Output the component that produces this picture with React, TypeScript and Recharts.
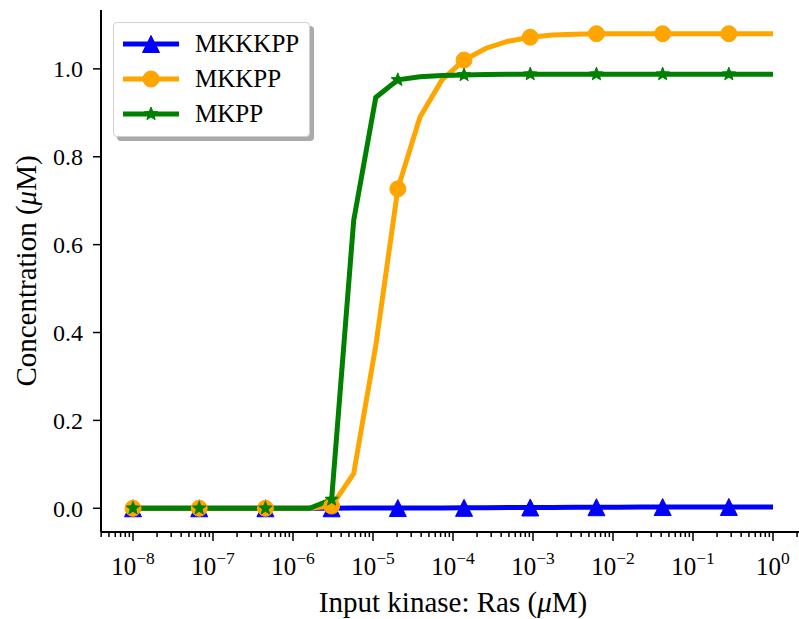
import { LineChart, Line, XAxis, YAxis, Legend, Label } from "recharts";

const FONT = '"Liberation Serif", "Times New Roman", serif';

// input kinase concentration (uM), 30 log-spaced samples from 1e-8 to 1
const RAS = [
  1.0e-8, 1.887e-8, 3.562e-8, 6.723e-8, 1.269e-7, 2.395e-7, 4.52e-7, 8.532e-7,
  1.61e-6, 3.039e-6, 5.736e-6, 1.083e-5, 2.043e-5, 3.857e-5, 7.279e-5, 1.374e-4,
  2.593e-4, 4.894e-4, 9.237e-4, 1.743e-3, 3.29e-3, 6.21e-3, 1.172e-2, 2.212e-2,
  4.175e-2, 7.88e-2, 1.487e-1, 2.807e-1, 5.298e-1, 1.0,
];

const MKKKPP = [
  0, 0, 0, 0, 0, 0, 0, 0, 0, 0, 0.0005, 0.0005, 0.0005, 0.0006, 0.0008, 0.001,
  0.0012, 0.0015, 0.0018, 0.002, 0.0022, 0.0024, 0.0026, 0.0027, 0.0028, 0.0029,
  0.003, 0.003, 0.003, 0.003,
];

const MKKPP = [
  0, 0, 0, 0, 0, 0, 0, 0, 0, 0.005, 0.079, 0.37, 0.727, 0.89, 0.975, 1.02, 1.047,
  1.063, 1.072, 1.077, 1.079, 1.08, 1.08, 1.08, 1.08, 1.08, 1.08, 1.08, 1.08, 1.08,
];

const MKPP = [
  0, 0, 0, 0, 0, 0, 0, 0, 0, 0.02, 0.655, 0.935, 0.975, 0.982, 0.985, 0.986, 0.987,
  0.988, 0.988, 0.988, 0.988, 0.988, 0.988, 0.988, 0.988, 0.988, 0.988, 0.988,
  0.988, 0.988,
];

const MAJOR_TICKS = [1e-8, 1e-7, 1e-6, 1e-5, 1e-4, 1e-3, 1e-2, 1e-1, 1];
const Y_TICKS = [0, 0.2, 0.4, 0.6, 0.8, 1.0];
const X_DOMAIN = [3.981e-9, 2.512];
const Y_DOMAIN = [-0.054, 1.134];

const SERIES = [
  { key: "MKKKPP", name: "MKKKPP", color: "#0000ff", marker: "triangle" },
  { key: "MKKPP", name: "MKKPP", color: "#ffa500", marker: "circle" },
  { key: "MKPP", name: "MKPP", color: "#008000", marker: "star" },
];

const data = RAS.map((x, i) => ({
  x,
  MKKKPP: MKKKPP[i],
  MKKPP: MKKPP[i],
  MKPP: MKPP[i],
}));

// minor ticks: 2..9 x each decade, within the visible range
const allTicks: number[] = [];
[1e-9, ...MAJOR_TICKS].forEach((d) => {
  for (let m = 1; m <= 9; m++) {
    const v = d * m;
    if (v >= X_DOMAIN[0] && v <= X_DOMAIN[1]) allTicks.push(v);
  }
});

function markerShape(kind: string, cx: number, cy: number, color: string) {
  if (kind === "triangle") {
    const h = 8.5;
    return (
      <polygon
        points={`${cx},${cy - h} ${cx - h},${cy + h} ${cx + h},${cy + h}`}
        fill={color}
        stroke={color}
        strokeWidth={1}
      />
    );
  }
  if (kind === "circle") {
    return <circle cx={cx} cy={cy} r={8} fill={color} stroke={color} />;
  }
  const pts: string[] = [];
  for (let k = 0; k < 10; k++) {
    const r = k % 2 === 0 ? 7 : 3;
    const a = -Math.PI / 2 + (k * Math.PI) / 5;
    pts.push(`${cx + r * Math.cos(a)},${cy + r * Math.sin(a)}`);
  }
  return <polygon points={pts.join(" ")} fill={color} stroke={color} strokeWidth={1} />;
}

function makeDot(kind: string, color: string) {
  return (props: any) => {
    const { cx, cy, index } = props;
    if (index % 3 !== 0 || cx == null || cy == null) return <g key={`d-${index}`} />;
    return <g key={`d-${index}`}>{markerShape(kind, cx, cy, color)}</g>;
  };
}

function LogTick(props: any) {
  const { x, y, payload } = props;
  const lg = Math.log10(payload.value);
  const exp = Math.round(lg);
  const major = Math.abs(lg - exp) < 1e-6;
  return (
    <g>
      <line x1={x} x2={x} y1={y} y2={y + (major ? 9 : 5)} stroke="#000" strokeWidth={1.5} />
      {major && (
        <text x={x} y={y + 43} textAnchor="middle" fontFamily={FONT} fontSize={25} fill="#000">
          10
          <tspan dy={-11} fontSize={17.5}>
            {exp === 0 ? "0" : "\u2212" + Math.abs(exp)}
          </tspan>
        </text>
      )}
    </g>
  );
}

function LegendBox() {
  return (
    <div
      style={{
        width: 197,
        height: 115,
        background: "#fff",
        border: "1px solid #d0d0d0",
        borderRadius: 4,
        boxShadow: "4px 4px 0 #aaaaaa",
        fontFamily: FONT,
        fontSize: 25,
        color: "#000",
        boxSizing: "border-box",
        paddingTop: 3,
      }}
    >
      {SERIES.map((s) => (
        <div key={s.key} style={{ height: 35, display: "flex", alignItems: "center" }}>
          <svg width={81} height={30} style={{ flex: "none" }}>
            <line x1={9} x2={65} y1={15} y2={15} stroke={s.color} strokeWidth={5} />
            {markerShape(s.marker, 37, 15, s.color)}
          </svg>
          <span style={{ lineHeight: "30px" }}>{s.name}</span>
        </div>
      ))}
    </div>
  );
}

export default function App() {
  return (
    <div
      style={{
        position: "absolute",
        left: 0,
        top: 0,
        width: 799,
        height: 619,
        overflow: "hidden",
        background: "#fff",
      }}
    >
      <LineChart width={810} height={619} data={data} margin={{ top: 10, right: 5, bottom: 0, left: 0 }}>
        <XAxis
          dataKey="x"
          type="number"
          scale="log"
          domain={X_DOMAIN}
          allowDataOverflow
          ticks={allTicks}
          interval={0}
          tick={<LogTick />}
          tickLine={false}
          tickSize={0}
          tickMargin={0}
          height={87}
          axisLine={{ stroke: "#000", strokeWidth: 2 }}
        >
          <Label
            content={(p: any) => {
              const vb = p.viewBox;
              return (
                <text
                  x={vb.x + vb.width / 2}
                  y={vb.y + 80}
                  textAnchor="middle"
                  fontFamily={FONT}
                  fontSize={29}
                  fill="#000"
                >
                  Input kinase: Ras (<tspan fontStyle="italic">μ</tspan>M)
                </text>
              );
            }}
          />
        </XAxis>
        <XAxis
          xAxisId="top"
          orientation="top"
          type="number"
          domain={[0, 1]}
          height={0}
          tick={false}
          tickLine={false}
          axisLine={{ stroke: "#000", strokeWidth: 2 }}
        />
        <YAxis
          type="number"
          domain={Y_DOMAIN}
          allowDataOverflow
          ticks={Y_TICKS}
          interval={0}
          width={101}
          tickSize={8}
          tickMargin={10}
          tickFormatter={(v: number) => v.toFixed(1)}
          tick={{ fill: "#000", fontSize: 24, fontFamily: FONT }}
          tickLine={{ stroke: "#000", strokeWidth: 1.5 }}
          axisLine={{ stroke: "#000", strokeWidth: 2 }}
        >
          <Label
            content={(p: any) => {
              const vb = p.viewBox;
              const cx = 36;
              const cy = vb.y + vb.height / 2;
              return (
                <text
                  x={cx}
                  y={cy}
                  transform={`rotate(-90 ${cx} ${cy})`}
                  textAnchor="middle"
                  fontFamily={FONT}
                  fontSize={29}
                  fill="#000"
                >
                  Concentration (<tspan fontStyle="italic">μ</tspan>M)
                </text>
              );
            }}
          />
        </YAxis>
        <Legend
          layout="vertical"
          align="center"
          verticalAlign="middle"
          wrapperStyle={{ left: 113, top: 22, width: "auto", height: "auto" }}
          content={() => <LegendBox />}
        />
        {SERIES.map((s) => (
          <Line
            key={s.key}
            dataKey={s.key}
            name={s.name}
            stroke={s.color}
            strokeWidth={5}
            dot={makeDot(s.marker, s.color)}
            activeDot={false}
            isAnimationActive={false}
          />
        ))}
      </LineChart>
    </div>
  );
}
